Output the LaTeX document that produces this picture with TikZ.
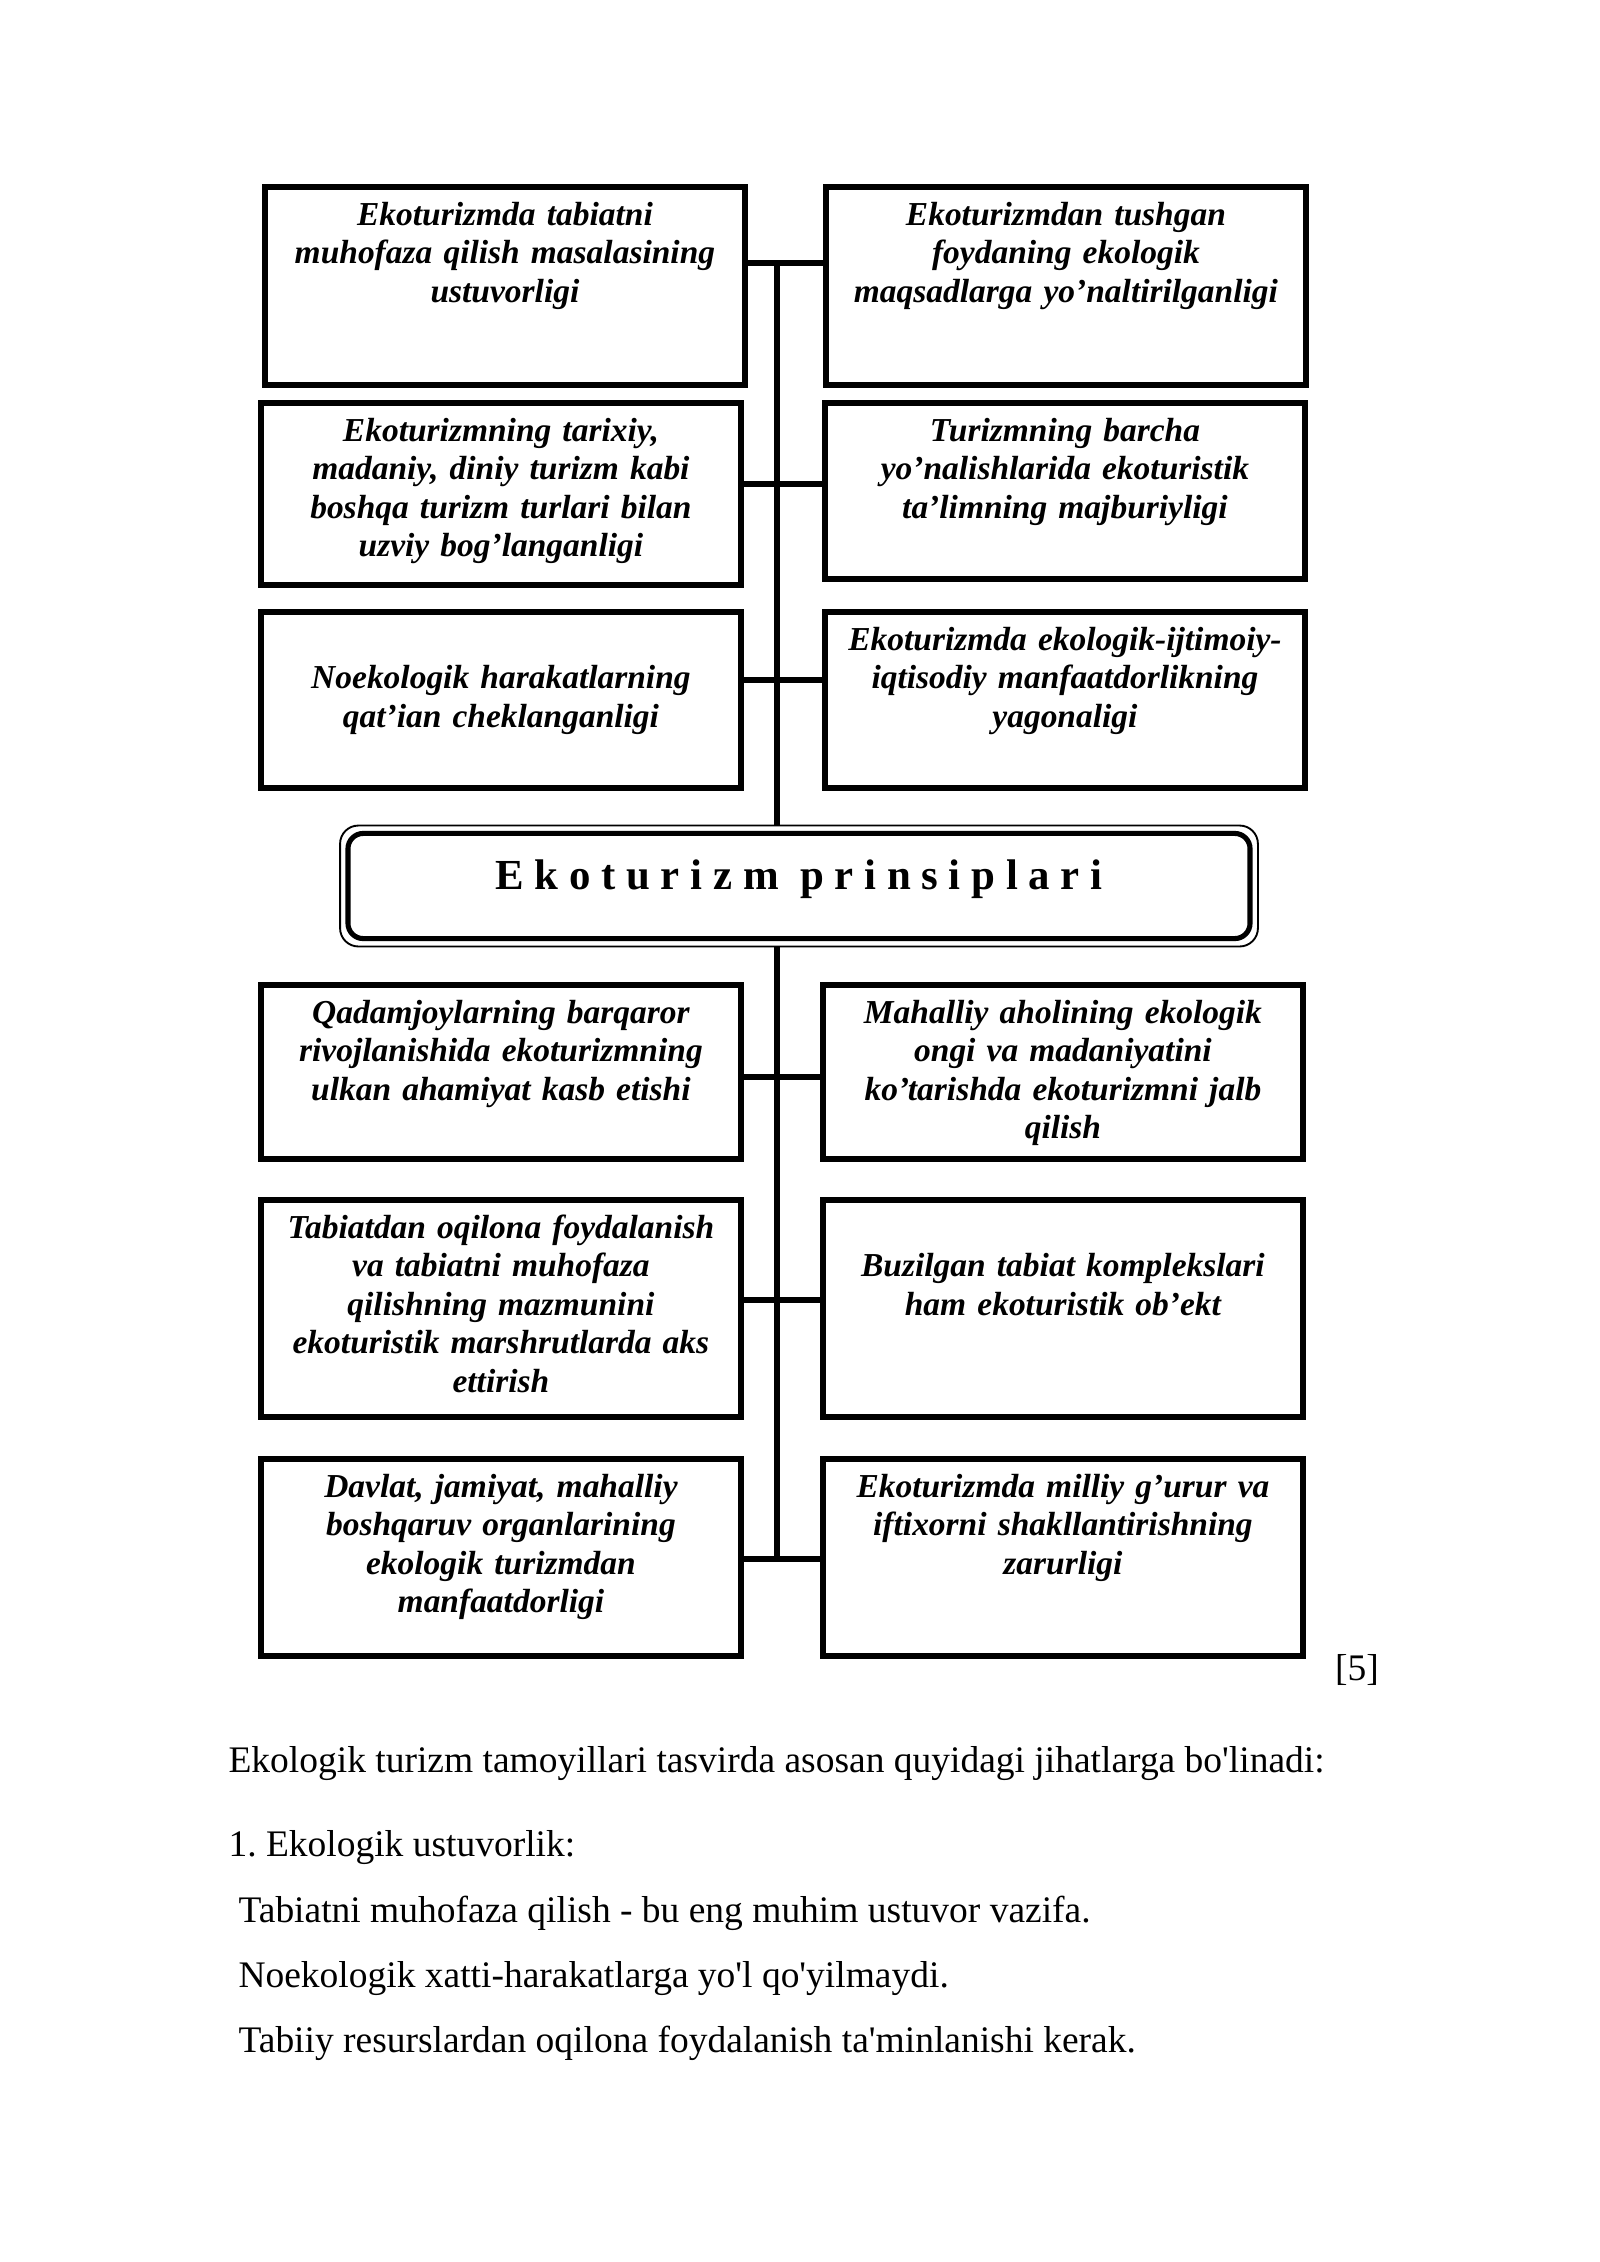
\documentclass[tikz,border=0pt]{standalone}
\usepackage{fontspec}
\setmainfont{Liberation Serif}
\newfontfamily\sarlavhafont[LetterSpace=25]{Liberation Serif}
\usetikzlibrary{fit}
\frenchspacing

\begin{document}
\begin{tikzpicture}[x=0.13125mm, y=-0.13125mm]
    \tikzset{prin/.style={draw, line width=2.2pt, anchor=north west, align=center,
        text width=60mm, inner xsep=1.5mm, inner ysep=0pt, text height=5mm,
        font={\fontsize{12.5}{14.4}\selectfont\bfseries\itshape}},
      link/.style={line width=2pt},
      matn/.style={anchor=base west, inner sep=0pt, font={\fontsize{14}{16}\selectfont}}}
    \useasboundingbox[fill=white] (0,0) rectangle (1600,2262);
    % yuqori qism
    \node[prin, text depth=21mm] (ustuvor) at (262,184)
        {Ekoturizmda tabiatni\\muhofaza qilish masalasining\\ustuvorligi};
    \node[prin, text depth=21mm] (foyda) at (823,184)
        {Ekoturizmdan tushgan\\foydaning ekologik\\maqsadlarga yo’naltirilganligi};
    \node[prin, text depth=18.9mm] (tarix) at (258,400)
        {Ekoturizmning tarixiy,\\madaniy, diniy turizm kabi\\boshqa turizm turlari bilan\\uzviy bog’langanligi};
    \node[prin, text depth=18.1mm] (talim) at (822,400)
        {Turizmning barcha\\yo’nalishlarida ekoturistik\\ta’limning majburiyligi};
    \node[prin, text height=10.1mm, text depth=13mm] (noeko) at (258,609)
        {Noekologik harakatlarning\\qat’ian cheklanganligi};
    \node[prin, text depth=18.1mm] (manfaat) at (822,609)
        {Ekoturizmda ekologik-ijtimoiy-\\iqtisodiy manfaatdorlikning\\yagonaligi};
    % markaz
    \node[draw, line width=1.9pt, rounded corners=2mm, minimum width=118.4mm,
        minimum height=13.8mm, text height=4.5mm, text depth=3.5mm,
        font={\sarlavhafont\bfseries\fontsize{16}{19}\selectfont}] (prinsip) at (799,886)
        {Ekoturizm prinsiplari};
    \node[fit=(prinsip), inner sep=2pt, draw, line width=0.7pt, rounded corners=2.4mm] (ramka) {};
    % quyi qism
    \node[prin, text depth=17.8mm] (qadam) at (258,982)
        {Qadamjoylarning barqaror\\rivojlanishida ekoturizmning\\ulkan ahamiyat kasb etishi};
    \node[prin, text depth=17.8mm] (mahalliy) at (820,982)
        {Mahalliy aholining ekologik\\ongi va madaniyatini\\ko’tarishda ekoturizmni jalb\\qilish};
    \node[prin, text depth=23.5mm] (oqilona) at (258,1197)
        {Tabiatdan oqilona foydalanish\\va tabiatni muhofaza\\qilishning mazmunini\\ekoturistik marshrutlarda aks\\ettirish};
    \node[prin, text height=10.1mm, text depth=18.4mm] (buzilgan) at (820,1197)
        {Buzilgan tabiat komplekslari\\ham ekoturistik ob’ekt};
    \node[prin, text depth=20.9mm] (davlat) at (258,1456)
        {Davlat, jamiyat, mahalliy\\boshqaruv organlarining\\ekologik turizmdan\\manfaatdorligi};
    \node[prin, text depth=20.9mm] (gurur) at (820,1456)
        {Ekoturizmda milliy g’urur va\\iftixorni shakllantirishning\\zarurligi};
    % o'q chiziq
    \coordinate (b1) at (777,263);
    \coordinate (b2) at (777,484);
    \coordinate (b3) at (777,680);
    \coordinate (b4) at (777,1077);
    \coordinate (b5) at (777,1300);
    \coordinate (b6) at (777,1559);
    \draw[link] (b1) -- (ramka.north -| b1);
    \draw[link] (ramka.south -| b1) -- (b6);
    \foreach \l/\r/\b in {ustuvor/foyda/b1, tarix/talim/b2, noeko/manfaat/b3,
        qadam/mahalliy/b4, oqilona/buzilgan/b5, davlat/gurur/b6}
        \draw[link] (\l.east |- \b) -- (\r.west |- \b);
    % matn
    \node[matn, anchor=center] (manba) at (1357,1670) {[5]};
    \node[matn] (jumla) at (228,1772)
        {Ekologik turizm tamoyillari tasvirda asosan quyidagi jihatlarga bo\textquotesingle linadi:};
    \node[matn] (band) at (228,1856) {1. Ekologik ustuvorlik:};
    \node[matn] (t1) at (238,1922) {Tabiatni muhofaza qilish - bu eng muhim ustuvor vazifa.};
    \node[matn] (t2) at (238,1987) {Noekologik xatti-harakatlarga yo\textquotesingle l qo\textquotesingle yilmaydi.};
    \node[matn] (t3) at (238,2052) {Tabiiy resurslardan oqilona foydalanish ta\textquotesingle minlanishi kerak.};
\end{tikzpicture}
\end{document}
